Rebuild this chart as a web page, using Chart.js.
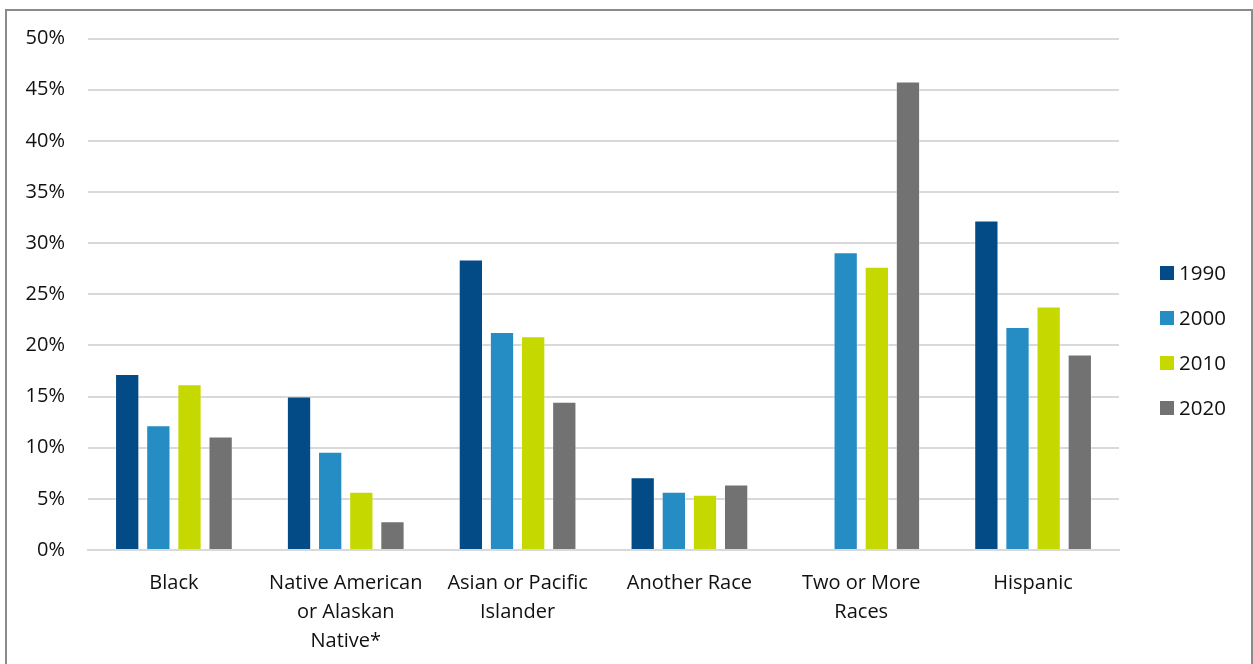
<!DOCTYPE html>
<html>
<head>
<meta charset="utf-8">
<script src="https://cdn.jsdelivr.net/npm/chart.js@4.4.1/dist/chart.umd.min.js"></script>
<style>
  html, body { margin: 0; padding: 0; background: #fff; overflow: hidden; }
  #frame {
    position: absolute; left: 5px; top: 9px;
    width: 1244px; height: 680px;
    border: 2px solid #8a8a8a;
    background: #fff;
  }
  canvas { display: block; }
</style>
</head>
<body>
<div id="frame"><canvas id="raceChart" width="1244" height="655"></canvas></div>
<script>
// Share of each group, percent, by census year
const categories = [
    'Black',
    ['Native American', 'or Alaskan', 'Native*'],
    ['Asian or Pacific', 'Islander'],
    'Another Race',
    ['Two or More', 'Races'],
    'Hispanic'
];
const years = ['1990', '2000', '2010', '2020'];
const values1990 = [17.2, 15.0, 28.4, 7.1, null, 32.2];
const values2000 = [12.2, 9.6, 21.3, 5.7, 29.1, 21.8];
const values2010 = [16.2, 5.7, 20.9, 5.4, 27.7, 23.8];
const values2020 = [11.1, 2.8, 14.5, 6.4, 45.8, 19.1];
const yTicks = [0, 5, 10, 15, 20, 25, 30, 35, 40, 45, 50];

const colors = ['#034b87', '#258dc3', '#c5d800', '#717271'];
const FONT = "'Open Sans', sans-serif";
const TEXT = '#111';

Chart.defaults.color = TEXT;
Chart.defaults.font.family = FONT;

// simple right-hand legend: square swatch + year, stacked vertically
const sideLegend = {
    id: 'sideLegend',
    afterDraw(chart) {
        const ctx = chart.ctx;
        const area = chart.chartArea;
        const x = area.right + 41;
        const step = 45;
        const ds = chart.data.datasets;
        const y0 = 262;
        ctx.save();
        ctx.font = '20.5px ' + FONT;
        ctx.textBaseline = 'middle';
        ctx.textAlign = 'left';
        ds.forEach((d, i) => {
            const cy = y0 + i * step;
            ctx.fillStyle = d.backgroundColor;
            ctx.fillRect(x, cy - 7, 14, 14);
            ctx.fillStyle = TEXT;
            ctx.fillText(d.label, x + 19, cy + 1);
        });
        ctx.restore();
    }
};

const seriesValues = [values1990, values2000, values2010, values2020];

new Chart(document.getElementById('raceChart'), {
    type: 'bar',
    data: {
        labels: categories,
        datasets: years.map((y, i) => ({
            label: y,
            data: seriesValues[i],
            backgroundColor: colors[i],
            borderColor: 'rgba(255,255,255,0.35)',
            borderWidth: 1,
            barPercentage: 0.78,
            categoryPercentage: 0.725
        }))
    },
    options: {
        responsive: false,
        animation: false,
        layout: { padding: { top: 27.5, right: 132, bottom: 0, left: 0 } },
        plugins: {
            legend: { display: false },
            tooltip: { enabled: false }
        },
        scales: {
            x: {
                grid: { display: false },
                border: { color: '#d9d9d9', width: 2 },
                ticks: {
                    color: TEXT,
                    font: { size: 20, lineHeight: 1.45 },
                    padding: 11,
                    maxRotation: 0,
                    autoSkip: false
                },
                afterFit: s => { s.height = 116; }
            },
            y: {
                min: 0,
                max: 50,
                afterBuildTicks: s => { s.ticks = yTicks.map(v => ({ value: v })); },
                grid: { color: '#d9d9d9', lineWidth: 2, drawTicks: false },
                border: { display: false },
                ticks: {
                    color: TEXT,
                    font: { size: 20 },
                    padding: 23,
                    callback: v => v + '%'
                },
                afterFit: s => {
                    s.width = 81;
                    s.paddingTop = 0;
                    s.paddingBottom = 0;
                }
            }
        }
    },
    plugins: [sideLegend]
});
</script>
</body>
</html>
